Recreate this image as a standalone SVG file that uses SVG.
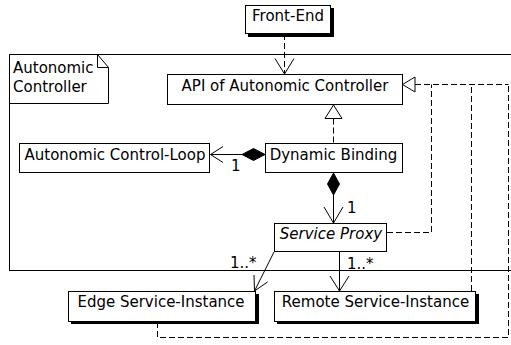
<svg xmlns="http://www.w3.org/2000/svg" width="511" height="345" viewBox="0 0 511 345">
<style>
text{font-family:"DejaVu Sans","Liberation Sans",sans-serif;font-size:15px;fill:#000}
.box{fill:#fff;stroke:#000;stroke-width:1}
.shadow{fill:#000}
.c{text-anchor:middle}
.ln{fill:none;stroke:#000;stroke-width:1}
.dash{fill:none;stroke:#000;stroke-width:1;stroke-dasharray:6,3}
.tri{fill:#fff;stroke:#000;stroke-width:1}
.dia{fill:#000;stroke:#000;stroke-width:1}
</style>
<rect width="511" height="345" fill="#fff"/>
<g id="frame">
<rect x="9.5" y="54.5" width="530" height="216" fill="none" stroke="#000"/>
<path d="M9.5,54.5 H97.5 L108.5,67.5 V103.5 H9.5 Z" class="box"/>
<path d="M97.5,54.5 V67.5 H108.5" class="ln"/>
<text x="13" y="72.5">Autonomic</text>
<text x="13" y="91.5">Controller</text>
</g>
<g id="front-end">
<rect x="248" y="8" width="86" height="29" class="shadow"/>
<rect x="245.5" y="5.5" width="85" height="28" class="box"/>
<text x="288" y="21" class="c">Front-End</text>
</g>
<g id="api">
<rect x="167.5" y="74.5" width="235" height="30" class="box"/>
<text x="285" y="90.5" class="c">API of Autonomic Controller</text>
</g>
<g id="control-loop">
<rect x="19.5" y="143.5" width="190" height="29" class="box"/>
<text x="115" y="160" class="c">Autonomic Control-Loop</text>
</g>
<g id="dynamic-binding">
<rect x="265.5" y="143.5" width="137" height="29" class="box"/>
<text x="333.5" y="160" class="c">Dynamic Binding</text>
</g>
<g id="service-proxy">
<rect x="274.5" y="223.5" width="112" height="28" class="box"/>
<text x="331" y="238.5" class="c" font-style="italic">Service Proxy</text>
</g>
<g id="edge-instance">
<rect x="71" y="294" width="188" height="30" class="shadow"/>
<rect x="68.5" y="291.5" width="187" height="30" class="box"/>
<text x="161" y="306.5" class="c">Edge Service-Instance</text>
</g>
<g id="remote-instance">
<rect x="277" y="294" width="202" height="30" class="shadow"/>
<rect x="274.5" y="291.5" width="201" height="30" class="box"/>
<text x="375.5" y="306.5" class="c">Remote Service-Instance</text>
</g>
<g id="connectors">
<path d="M284.5,34 V74" class="dash"/>
<path d="M275,58.5 L284.5,74 L294,58.5" class="ln"/>
<path d="M333.5,118.5 V143" class="dash"/>
<path d="M333.5,105 L325,118.5 H342 Z" class="tri"/>
<path d="M210.5,154.5 H242" class="ln"/>
<path d="M265,154.5 L253.5,148.5 L242,154.5 L253.5,160.5 Z" class="dia"/>
<path d="M223,146.5 L210.5,154.5 L223,162.5" class="ln"/>
<text x="231" y="171">1</text>
<path d="M333.5,173 L327.5,184 L333.5,195 L339.5,184 Z" class="dia"/>
<path d="M333.5,195 V223" class="ln"/>
<path d="M324,207 L333.5,223 L343,207" class="ln"/>
<text x="347" y="213">1</text>
<path d="M274,252 L254.5,291" class="ln"/>
<path d="M267.5,282 L254.5,291 L254,275" class="ln"/>
<text x="230" y="268">1..*</text>
<path d="M339.5,252 V291" class="ln"/>
<path d="M330,276 L339.5,291 L349,276" class="ln"/>
<text x="347" y="269">1..*</text>
<path d="M402.5,84.5 L415,77 V92 Z" class="tri"/>
<path d="M415,84.5 H508.5" class="dash"/>
<path d="M387,232.5 H431.5 V84.5" class="dash"/>
<path d="M471.5,291 V84.5" class="dash"/>
<path d="M157.5,322 V337.5 H508.5 V84.5" class="dash"/>
</g>
</svg>
